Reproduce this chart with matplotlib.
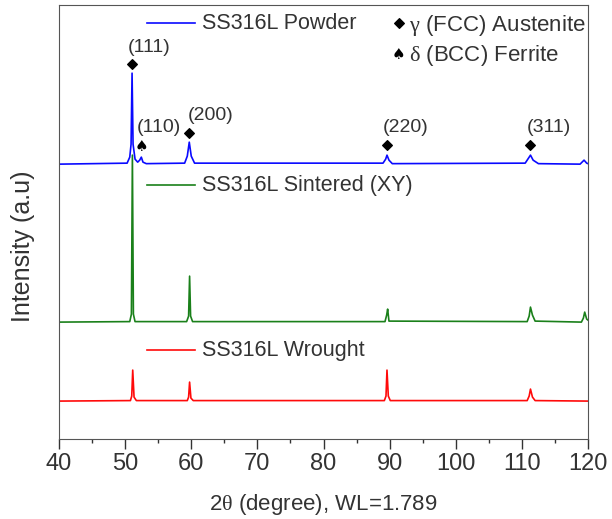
import matplotlib
matplotlib.use('Agg')
import matplotlib.pyplot as plt
from matplotlib.ticker import MultipleLocator

plt.rcParams['font.family'] = ['Liberation Sans', 'DejaVu Sans']
plt.rcParams['mathtext.fontset'] = 'custom'
plt.rcParams['mathtext.rm'] = 'Liberation Serif'
plt.rcParams['mathtext.it'] = 'Liberation Serif'

# XRD scans, intensity already offset for stacking (arb. units)
tt_powder = [40, 50.3, 50.7, 50.9, 51.05, 51.2, 51.5, 51.9, 52.2, 52.45, 52.7, 53.2,
             59.0, 59.4, 59.7, 60.0, 60.5, 89.0, 89.4, 89.6, 89.9, 90.4,
             110.5, 111.0, 111.3, 111.7, 112.5, 118.8, 119.4, 119.8, 120]
i_powder = [2750, 2760, 2820, 2950, 3660, 2950, 2800, 2770, 2790, 2820, 2770, 2755,
            2760, 2830, 2970, 2830, 2760, 2760, 2800, 2840, 2790, 2755,
            2760, 2810, 2840, 2790, 2755, 2750, 2790, 2760, 2755]

tt_sintered = [40, 50.7, 50.95, 51.1, 51.25, 51.5, 59.3, 59.6, 59.75, 59.9, 60.2,
               89.3, 89.55, 89.7, 89.9, 110.8, 111.1, 111.3, 111.6, 112.0,
               119.0, 119.3, 119.5, 119.8, 120]
i_sintered = [1170, 1175, 1250, 2840, 1250, 1175, 1175, 1230, 1630, 1230, 1175,
              1175, 1240, 1300, 1180, 1175, 1230, 1320, 1240, 1180,
              1170, 1210, 1270, 1200, 1190]

tt_wrought = [40, 50.8, 51.0, 51.15, 51.35, 51.7, 59.4, 59.6, 59.75, 59.95, 60.3,
              89.2, 89.45, 89.6, 89.8, 90.1, 110.8, 111.1, 111.3, 111.6, 112.0, 120]
i_wrought = [380, 385, 430, 690, 420, 385, 385, 420, 570, 410, 385,
             385, 430, 690, 430, 385, 385, 430, 500, 420, 385, 380]

# phase markers on the powder pattern
fcc_pos = [51.04, 59.7, 89.6, 111.3]
fcc_y = [3750, 3060, 2940, 2940]
fcc_hkl = ['(111)', '(200)', '(220)', '(311)']
bcc_pos = [52.4]
bcc_y = [2930]
bcc_hkl = ['(110)']

fig = plt.figure(figsize=(6.12, 5.19), dpi=100)
ax = fig.add_axes([0.0964, 0.154, 0.8644, 0.836])

ax.plot(tt_sintered, i_sintered, color='#1a801a', lw=1.2)
ax.plot(tt_wrought, i_wrought, color='#ff0a0a', lw=1.2)
ax.plot(tt_powder, i_powder, color='#0a0aff', lw=1.2)

ax.scatter(fcc_pos, fcc_y, marker='D', s=24, color='black', zorder=5)
for x, y in zip(bcc_pos, bcc_y):
    ax.text(x, y, '\u2660', family='DejaVu Sans', fontsize=11, ha='center', va='center')

lbl_x = [50.4, 59.4, 89.0, 110.8]
lbl_y = [3920, 3240, 3120, 3120]
for x, y, s in zip(lbl_x, lbl_y, fcc_hkl):
    ax.text(x, y, s, fontsize=14, ha='left', va='center', color='#333333')
ax.text(51.8, 3120, bcc_hkl[0], fontsize=14, ha='left', va='center', color='#333333')

# sample names with line keys
names = ['SS316L Powder', 'SS316L Sintered (XY)', 'SS316L Wrought']
name_y = [4160, 2540, 890]
cols = ['#0a0aff', '#1a801a', '#ff0a0a']
for s, y, c in zip(names, name_y, cols):
    ax.plot([53.3, 60.6], [y, y], color=c, lw=1.2)
    ax.text(61.6, y, s, fontsize=15.5, ha='left', va='center', color='#333333')

ax.scatter([91.4], [4160], marker='D', s=24, color='black')
ax.text(92.9, 4140, r'$\mathrm{\gamma}$ (FCC) Austenite', fontsize=16, ha='left', va='center', color='#333333')
ax.text(91.4, 3850, '\u2660', family='DejaVu Sans', fontsize=11, ha='center', va='center')
ax.text(92.9, 3840, r'$\mathrm{\delta}$ (BCC) Ferrite', fontsize=16, ha='left', va='center', color='#333333')

ax.set_xlim(40, 120)
ax.set_ylim(0, 4340)
ax.xaxis.set_major_locator(MultipleLocator(10))
ax.xaxis.set_minor_locator(MultipleLocator(5))
ax.tick_params(axis='x', which='major', direction='out', length=7, width=1, labelsize=17, pad=3, colors='#333333')
ax.tick_params(axis='x', which='minor', direction='out', length=3, width=1, colors='#333333')
ax.set_yticks([])
for sp in ax.spines.values():
    sp.set_color('#555555')
ax.set_xlabel(r'2$\mathrm{\theta}$ (degree), WL=1.789', fontsize=16, color='#333333', labelpad=12)
ax.set_ylabel('Intensity (a.u)', fontsize=18, color='#333333')
ax.yaxis.set_label_coords(-0.045, 0.445)

fig.savefig('out.png', dpi=100)
